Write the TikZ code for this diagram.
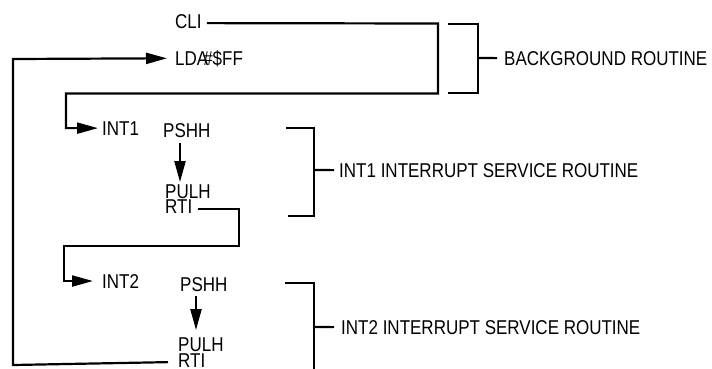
\documentclass[tikz,border=0pt]{standalone}
\usepackage{fontspec}
\setmainfont{Liberation Sans}[FakeStretch=0.85]
\usetikzlibrary{arrows.meta}
\begin{document}
\begin{tikzpicture}[x=1pt,y=-1pt,
  txt/.style={font=\fontsize{20}{20}\selectfont, inner sep=0pt, anchor=base west},
  ln/.style={line width=2.2pt},
  arr/.style={ln,-{Triangle[length=21pt,width=11pt]}}]
\useasboundingbox (0,0) rectangle (712,368);
\clip (0,0) rectangle (712,368);
% texts
\node[txt] (cli) at (175,28) {CLI};
\node[txt] (lda) at (175,65) {LDA\kern-5pt\#\$FF};
\node[txt] (int1) at (102,135) {INT1};
\node[txt] (pshh1) at (163,137) {PSHH};
\node[txt] (pulh1) at (165,198) {PULH};
\node[txt] (rti1) at (165,213) {RTI};
\node[txt] (int2) at (102,288) {INT2};
\node[txt] (pshh2) at (180,291) {PSHH};
\node[txt] (pulh2) at (178,351) {PULH};
\node[txt] (rti2) at (178,367) {RTI};
\node[txt] (bg) at (504,65) {BACKGROUND ROUTINE};
\node[txt] (isr1) at (339,177) {INT1 INTERRUPT SERVICE ROUTINE};
\node[txt] (isr2) at (341,334) {INT2 INTERRUPT SERVICE ROUTINE};
% flow connectors
\draw[arr] ([xshift=5pt,yshift=-2pt]cli.east) -- (438,23.5) -- (438,93.5) -- (66,93.5) |- ([xshift=-4pt]int1.west);
\draw[arr] ([xshift=-10pt,yshift=-2pt]rti2.west) -- (13,365) -- (13,59) -- ([xshift=-8pt]lda.west);
\draw[arr] ([xshift=6pt,yshift=-3pt]rti1.east) -| (239,246) -- (64,246) |- ([xshift=-9pt]int2.west);
\draw[arr] ([xshift=17pt,yshift=-6pt]pshh1.south west) -- ([xshift=15pt,yshift=2pt]pulh1.north west);
\draw[arr] ([xshift=16pt,yshift=-5pt]pshh2.south west) -- ([xshift=18pt,yshift=7pt]pulh2.north west);
% brackets
\draw[ln] (448,24) -- (478,24) -- (478,93) -- (448,93);
\draw[ln] (478,58) -- ([xshift=-7pt]bg.west);
\draw[ln] (286,128) -- (314,128) -- (314,216) -- (288,216);
\draw[ln] (314,170) -- ([xshift=-5pt]isr1.west);
\draw[ln] (285,283) -- (314,283) -- (314,372);
\draw[ln] (314,327) -- ([xshift=-7pt]isr2.west);
\end{tikzpicture}
\end{document}
